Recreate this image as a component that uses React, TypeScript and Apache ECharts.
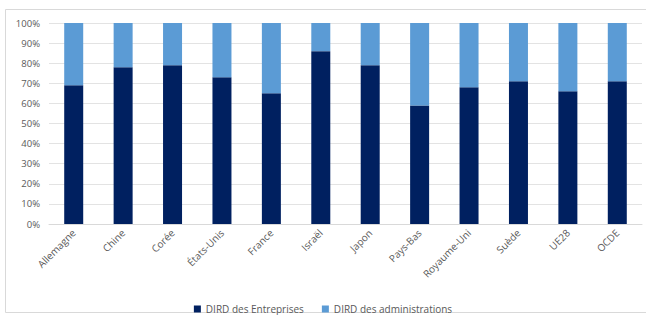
import React, { useEffect, useRef } from "react";
import * as echarts from "echarts";

const categories = ["Allemagne", "Chine", "Corée", "États-Unis", "France", "Israël", "Japon", "Pays-Bas", "Royaume-Uni", "Suède", "UE28", "OCDE"];
const entreprises = [69, 78, 79, 73, 65, 86, 79, 59, 68, 71, 66, 71];
const administrations = entreprises.map((v) => 100 - v);
const seriesNames = ["DIRD des Entreprises", "DIRD des administrations"];

export default function App() {
  const ref = useRef<HTMLDivElement>(null);
  useEffect(() => {
    if (!ref.current) return;
    const chart = echarts.init(ref.current, null, { renderer: "svg" });
    const font = "'Open Sans', 'Noto Sans', sans-serif";
    chart.setOption({
      animation: false,
      textStyle: { fontFamily: font },
      graphic: [
        {
          type: "rect",
          shape: { x: 5.5, y: 9.5, width: 660, height: 303 },
          style: { fill: "none", stroke: "#d9d9d9", lineWidth: 1 },
          silent: true,
        },
      ],
      grid: { left: 49, right: 4, top: 23, bottom: 91, containLabel: false },
      legend: {
        top: 299,
        left: "center",
        itemWidth: 7,
        itemHeight: 7,
        itemGap: 18,
        icon: "rect",
        textStyle: { fontSize: 10, color: "#595959", fontFamily: font },
        data: seriesNames,
      },
      xAxis: {
        type: "category",
        data: categories,
        axisLine: { lineStyle: { color: "#d9d9d9" } },
        axisTick: { show: false },
        axisLabel: { rotate: 45, fontSize: 10, color: "#595959", interval: 0, margin: 7, fontFamily: font },
      },
      yAxis: {
        type: "value",
        min: 0,
        max: 100,
        interval: 10,
        axisLabel: { formatter: "{value}%", fontSize: 9.5, color: "#595959", margin: 9, fontFamily: font },
        splitLine: { lineStyle: { color: "#e3e3e3" } },
        axisLine: { show: false },
        axisTick: { show: false },
      },
      series: [
        {
          name: seriesNames[0],
          type: "bar",
          stack: "total",
          data: entreprises,
          barWidth: 19,
          itemStyle: { color: "#002060" },
        },
        {
          name: seriesNames[1],
          type: "bar",
          stack: "total",
          data: administrations,
          barWidth: 19,
          itemStyle: { color: "#5b9bd5" },
        },
      ],
    });
    return () => chart.dispose();
  }, []);
  return <div ref={ref} style={{ width: 646, height: 315, position: "fixed", left: 0, top: 0, background: "#fff" }} />;
}
